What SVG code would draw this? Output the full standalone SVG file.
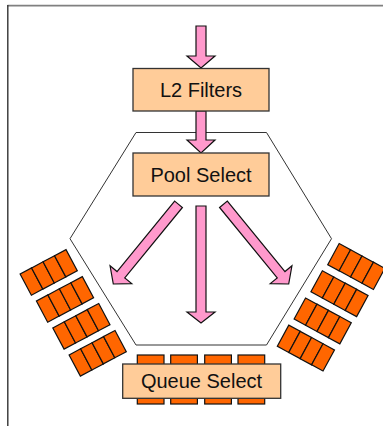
<svg xmlns="http://www.w3.org/2000/svg" width="383" height="426" viewBox="0 0 383 426">
<style>
.box{fill:#FFCC99;stroke:#333333;stroke-width:1.3}
.lbl{font-family:"Liberation Sans",Arial,sans-serif;font-size:20px;fill:#111111;text-anchor:middle}
.arr{fill:#FF99CC;stroke:#111111;stroke-width:1.2;stroke-linejoin:miter}
.cell{fill:#FF6600;stroke:#111111;stroke-width:1.2}
.hex{fill:none;stroke:#333333;stroke-width:1}
</style>
<defs>
<g id="q">
<rect class="cell" x="-26" y="-12" width="13" height="24"/>
<rect class="cell" x="-13" y="-12" width="13" height="24"/>
<rect class="cell" x="0" y="-12" width="13" height="24"/>
<rect class="cell" x="13" y="-12" width="13" height="24"/>
</g>
<polygon id="diag" points="-5,-103 5,-103 5,-12 14,-12 0,0 -14,-12 -5,-12"/>
</defs>
<rect width="383" height="426" fill="#ffffff"/>
<g id="frame">
<line x1="7.5" y1="5.6" x2="383" y2="5.6" stroke="#808080" stroke-width="1.6"/>
<line x1="7.8" y1="5" x2="7.8" y2="426" stroke="#333333" stroke-width="1.4"/>
</g>
<g id="pool-boundary">
<polygon class="hex" points="136,132.5 266.5,132.5 331.5,238.7 266.5,345 136,345 70,238.7"/>
</g>
<g id="left-queues">
<use href="#q" transform="translate(48.7,272.4) rotate(-28)"/>
<use href="#q" transform="translate(65,299.4) rotate(-28)"/>
<use href="#q" transform="translate(81.4,326.3) rotate(-28)"/>
<use href="#q" transform="translate(97.7,353.3) rotate(-28)"/>
</g>
<g id="right-queues">
<use href="#q" transform="translate(356.3,266.5) rotate(28.5)"/>
<use href="#q" transform="translate(339.5,293.7) rotate(28.5)"/>
<use href="#q" transform="translate(322.7,320.9) rotate(28.5)"/>
<use href="#q" transform="translate(305.9,348.1) rotate(28.5)"/>
</g>
<g id="connectors">
<polygon class="arr" points="196,26 206,26 206,56 215,56 201,68 187,56 196,56"/>
<polygon class="arr" points="196,111 206,111 206,140 215,140 201,153 187,140 196,140"/>
<polygon class="arr" points="196,206 206,206 206,312 215,312 201,323 187,312 196,312"/>
<use href="#diag" class="arr" transform="translate(113.3,284) rotate(39.3)"/>
<use href="#diag" class="arr" transform="translate(288.7,284) rotate(-39.3)"/>
</g>
<g id="l2-filters">
<rect class="box" x="133" y="68.5" width="136" height="42.5"/>
<text class="lbl" x="201" y="96.5">L2 Filters</text>
</g>
<g id="pool-select">
<rect class="box" x="133" y="153" width="136" height="43"/>
<text class="lbl" x="201" y="181.5">Pool Select</text>
</g>
<g id="queue-select">
<rect class="cell" x="137.3" y="355" width="26.7" height="49"/>
<rect class="cell" x="170.7" y="355" width="26.7" height="49"/>
<rect class="cell" x="204.7" y="355" width="26.7" height="49"/>
<rect class="cell" x="238" y="355" width="26.7" height="49"/>
<rect class="box" x="122.7" y="364" width="158" height="34.3"/>
<text class="lbl" x="201.5" y="388">Queue Select</text>
</g>
</svg>
